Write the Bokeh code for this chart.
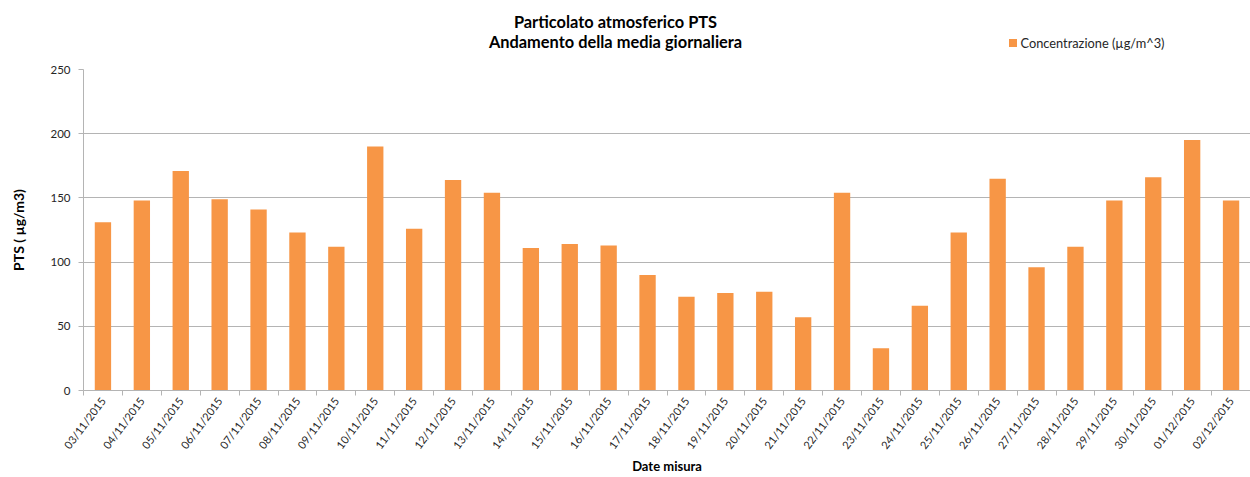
import math
from bokeh.plotting import figure
from bokeh.layouts import column
from bokeh.models import Range1d, LinearAxis, FixedTicker, ColumnDataSource
from bokeh.core.properties import value
from bokeh.embed import file_html
from bokeh.resources import INLINE

dates = ["03/11/2015", "04/11/2015", "05/11/2015", "06/11/2015", "07/11/2015",
         "08/11/2015", "09/11/2015", "10/11/2015", "11/11/2015", "12/11/2015",
         "13/11/2015", "14/11/2015", "15/11/2015", "16/11/2015", "17/11/2015",
         "18/11/2015", "19/11/2015", "20/11/2015", "21/11/2015", "22/11/2015",
         "23/11/2015", "24/11/2015", "25/11/2015", "26/11/2015", "27/11/2015",
         "28/11/2015", "29/11/2015", "30/11/2015", "01/12/2015", "02/12/2015"]
conc = [131, 148, 171, 149, 141, 123, 112, 190, 126, 164,
        154, 111, 114, 113, 90, 73, 76, 77, 57, 154,
        33, 66, 123, 165, 96, 112, 148, 166, 195, 148]
y_ticks = [0, 50, 100, 150, 200, 250]

title_1 = "Particolato atmosferico PTS"
title_2 = "Andamento della media giornaliera"
series_name = "Concentrazione (µg/m^3)"
y_title = "PTS ( µg/m3)"
x_title = "Date misura"

FONT = "Lato"
ORANGE = "#F79646"
GRID = "#B4B4B4"
TXT = "#262626"

W = 1250
TOP_H = 61          # header strip (titles + legend)
MAIN_H = 416        # chart: 8px top + 322px plot area + 86px for the x axis
FRAME_LEFT = 83

# ---------------- header: titles and legend (coordinates = page pixels) ----------------
head = figure(width=W, height=TOP_H, x_range=Range1d(FRAME_LEFT, W), y_range=Range1d(TOP_H, 0),
              output_backend="svg", toolbar_location=None, min_border=0,
              min_border_left=FRAME_LEFT, x_axis_location=None, y_axis_location=None)
head.outline_line_color = None
head.xgrid.visible = False
head.ygrid.visible = False
head.text(x=[615, 615], y=[21, 41], text=[title_1, title_2], text_align="center",
          text_baseline="middle", text_font=value(FONT), text_font_size="16.4px",
          text_font_style="bold", text_color="#000000")
head.scatter(x=[1012.5], y=[42.5], marker="square", size=8, fill_color=ORANGE, line_color=None)
head.text(x=[1020], y=[42], text=[series_name], text_align="left", text_baseline="middle",
          text_font=value(FONT), text_font_size="12.8px", text_color=TXT)

# ---------------- main chart ----------------
n = len(dates)
centers = [i + 0.5 for i in range(n)]
src = ColumnDataSource(dict(x=centers, date=dates, conc=conc))

p = figure(x_range=Range1d(0, n), y_range=Range1d(0, 250),
           width=W, height=MAIN_H, output_backend="svg", toolbar_location=None,
           x_axis_location=None, y_axis_location="left",
           min_border_left=FRAME_LEFT, min_border_right=0, min_border_top=8,
           min_border_bottom=86)
p.outline_line_color = None
p.xgrid.grid_line_color = None
p.ygrid.grid_line_color = GRID
p.ygrid.ticker = FixedTicker(ticks=y_ticks)

p.vbar(x="x", top="conc", width=0.42, source=src, fill_color=ORANGE, line_color=None)

ya = p.yaxis[0]
ya.ticker = FixedTicker(ticks=y_ticks)
ya.axis_line_color = GRID
ya.major_tick_line_color = GRID
ya.major_tick_in = 0
ya.major_tick_out = 5
ya.minor_tick_line_color = None
ya.major_label_text_font = FONT
ya.major_label_text_font_size = "11.5px"
ya.major_label_text_color = TXT
ya.major_label_standoff = 8
ya.axis_label = y_title
ya.axis_label_text_font = FONT
ya.axis_label_text_font_size = "14px"
ya.axis_label_text_font_style = "bold"
ya.axis_label_text_color = "#000000"
ya.axis_label_standoff = 20

tick_axis = LinearAxis(ticker=FixedTicker(ticks=list(range(n + 1))),
                       major_label_text_font_size="1px", major_label_text_color=None,
                       major_label_standoff=0, major_tick_in=0, major_tick_out=5,
                       minor_tick_line_color=None, axis_line_color=GRID,
                       major_tick_line_color=GRID)
p.add_layout(tick_axis, "below")
label_axis = LinearAxis(ticker=FixedTicker(ticks=centers),
                        major_label_overrides={c: d for c, d in zip(centers, dates)},
                        major_label_orientation=math.radians(53), axis_line_color=None,
                        major_tick_line_color=None, minor_tick_line_color=None,
                        major_tick_out=0, major_tick_in=0,
                        major_label_standoff=3, major_label_text_font=FONT,
                        major_label_text_font_size="11px", major_label_text_color=TXT,
                        axis_label=x_title, axis_label_text_font=FONT,
                        axis_label_text_font_size="13px", axis_label_text_font_style="bold",
                        axis_label_text_color="#000000", axis_label_standoff=0)
p.add_layout(label_axis, "below")

layout = column(head, p, spacing=0)
open("out.html", "w").write(file_html(layout, INLINE))
